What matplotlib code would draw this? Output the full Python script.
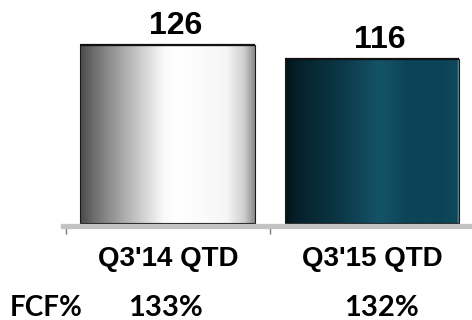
import numpy as np
import matplotlib.pyplot as plt
from matplotlib.colors import LinearSegmentedColormap

categories = ["Q3'14 QTD", "Q3'15 QTD"]
values = [126, 116]
fcf_pct = ["133%", "132%"]

# horizontal shading stops for each bar (position across width, colour)
shade_silver = [(0.0, '#4a4a4a'), (0.08, '#6e6e6e'), (0.3, '#bdbdbd'),
                (0.48, '#fafafa'), (0.58, '#ffffff'), (0.84, '#f6f6f6'),
                (0.94, '#cfcfcf'), (1.0, '#8c8c8c')]
shade_teal = [(0.0, '#021419'), (0.08, '#05222c'), (0.3, '#0a3645'),
              (0.55, '#145468'), (0.7, '#0c4456'), (0.9, '#0b4456'),
              (0.985, '#0e4a5c'), (1.0, '#9aa8ad')]

fig = plt.figure(figsize=(4.72, 3.20), dpi=100)
ax = fig.add_axes([63/472, 94.5/320, 409/472, 225.5/320])

x = np.arange(len(categories))
bars = ax.bar(x, values, width=0.855, color='none', edgecolor='#1a1a1a',
              linewidth=0.8, zorder=3)

grad = np.linspace(0, 1, 256).reshape(1, -1)
for rect, stops in zip(bars, [shade_silver, shade_teal]):
    cmap = LinearSegmentedColormap.from_list('shade', stops)
    x0, y0 = rect.get_x(), rect.get_y()
    w, h = rect.get_width(), rect.get_height()
    im = ax.imshow(grad, cmap=cmap, aspect='auto', extent=[x0, x0 + w, y0, y0 + h],
                   zorder=2, interpolation='bilinear')
    im.set_clip_path(rect)
    # dark rim along the top of each bar
    ax.plot([x0, x0 + w], [y0 + h, y0 + h], color='#111111', lw=1.6,
            solid_capstyle='butt', zorder=4)

for xi, v in zip(x, values):
    ax.text(xi + 0.04, v + 8, str(v), ha='center', va='baseline',
            fontsize=23, fontweight='bold', family='Liberation Sans')

ax.set_xlim(-0.513, 1.49)
ax.set_ylim(-1.8, 157.9)
ax.set_xticks([-0.5, 0.5])
ax.set_xticklabels([])
ax.set_yticks([])
for s in ['top', 'right', 'left']:
    ax.spines[s].set_visible(False)
ax.spines['bottom'].set_color('#c3c3c3')
ax.spines['bottom'].set_linewidth(3.8)
ax.spines['bottom'].set_zorder(5)
ax.tick_params(axis='x', direction='out', length=5.5, width=1, color='#7a7a7a')

for xi, lab in zip(x, categories):
    ax.text(xi, -30.5, lab, ha='center', va='baseline', fontsize=20,
            fontweight='bold', family='Liberation Sans')

fig.text(10/472, 1 - 316/320, 'FCF%', ha='left', va='baseline', fontsize=20,
         fontweight='bold', family='Lato')
for xc, p in zip([166, 382], fcf_pct):
    fig.text(xc/472, 1 - 316/320, p, ha='center', va='baseline', fontsize=21,
             fontweight='bold', family='Lato')

fig.savefig('out.png', dpi=100)
